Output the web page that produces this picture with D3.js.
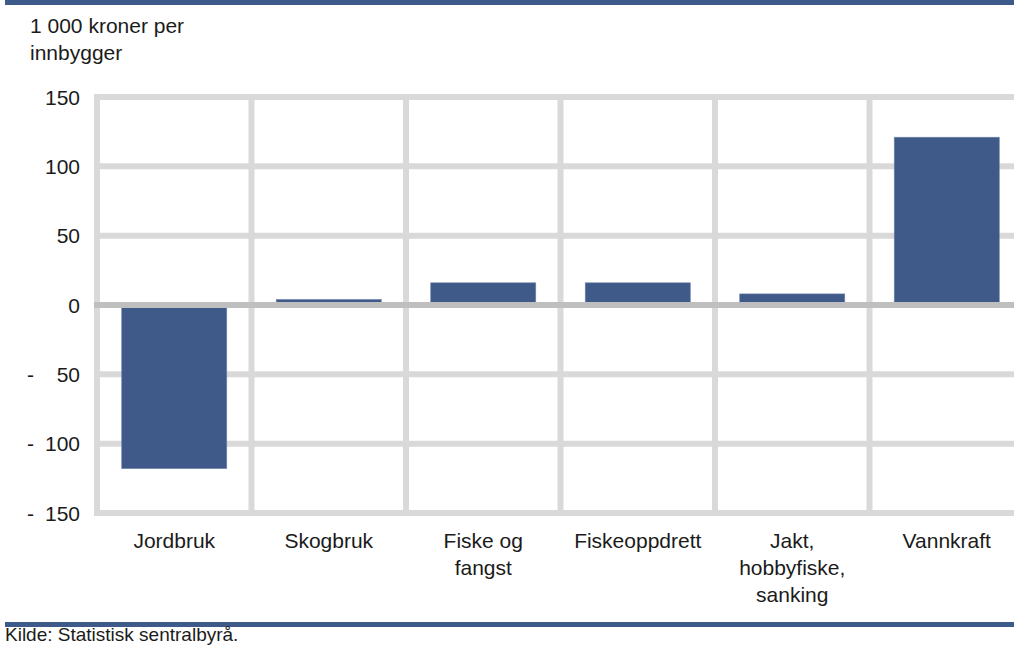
<!DOCTYPE html>
<html>
<head>
<meta charset="utf-8">
<script src="https://cdn.jsdelivr.net/npm/d3@7/dist/d3.min.js"></script>
<style>
  html, body { margin: 0; padding: 0; background: #fff; }
  svg { display: block; font-family: "Liberation Sans", Arial, sans-serif; }
</style>
</head>
<body>
<svg id="chart" width="1014" height="646"></svg>
<script>
const categories = [
  ["Jordbruk"],
  ["Skogbruk"],
  ["Fiske og", "fangst"],
  ["Fiskeoppdrett"],
  ["Jakt,", "hobbyfiske,", "sanking"],
  ["Vannkraft"]
];
const values = [-118, 4, 16, 16, 8, 121];
const yTicks = [150, 100, 50, 0, -50, -100, -150];
const unitLines = ["1 000 kroner per", "innbygger"];
const sourceText = "Kilde: Statistisk sentralbyrå.";

(function () {
const svg = d3.select("#chart");
const W = 1014;
const pLeft = 97, pRight = 1024, pTop = 97, pBottom = 513;
const textColor = "#1b1b1b";
const barColor = "#3f5a88";
const ruleColor = "#3d5a8a";

const keys = categories.map(c => c.join(" "));
const x = d3.scaleBand().domain(keys).range([pLeft, pRight])
  .paddingInner(0.32).paddingOuter(0.16);
const y = d3.scaleLinear().domain([-150, 150]).range([pBottom, pTop]);

// top and bottom rules
svg.append("rect").attr("x", 5).attr("y", 0).attr("width", W - 5).attr("height", 5).attr("fill", ruleColor);
svg.append("rect").attr("x", 5).attr("y", 622).attr("width", W - 5).attr("height", 5).attr("fill", ruleColor);

// horizontal gridlines
const grid = svg.append("g");
grid.selectAll("line.h").data(yTicks.filter(t => t !== 0)).join("line")
  .attr("class", "h")
  .attr("x1", pLeft - 3).attr("x2", pRight + 3)
  .attr("y1", d => y(d)).attr("y2", d => y(d))
  .attr("stroke", "#d9d9d9").attr("stroke-width", 6);

// vertical gridlines at category boundaries
const bounds = d3.range(keys.length + 1).map(i => x.range()[0] + i * x.step());
grid.selectAll("line.v").data(bounds).join("line")
  .attr("class", "v")
  .attr("x1", d => d).attr("x2", d => d)
  .attr("y1", pTop - 3).attr("y2", pBottom + 3)
  .attr("stroke", "#d9d9d9").attr("stroke-width", 6);

// bars
svg.append("g").selectAll("rect").data(values).join("rect")
  .attr("x", (d, i) => x(keys[i]))
  .attr("width", x.bandwidth())
  .attr("y", d => y(Math.max(0, d)))
  .attr("height", d => Math.abs(y(d) - y(0)))
  .attr("fill", barColor)
  .attr("stroke", "#6f86ad").attr("stroke-width", 0.6);

// zero line
svg.append("line")
  .attr("x1", pLeft - 3).attr("x2", pRight + 3)
  .attr("y1", y(0)).attr("y2", y(0))
  .attr("stroke", "#bfbfbf").attr("stroke-width", 6);

// y tick labels
const yl = svg.append("g").attr("font-size", 21).attr("fill", textColor);
yTicks.forEach(t => {
  yl.append("text").attr("x", 80).attr("y", y(t)).attr("dy", "0.36em")
    .attr("text-anchor", "end").text(Math.abs(t));
  if (t < 0) {
    yl.append("text").attr("x", 27).attr("y", y(t)).attr("dy", "0.36em").text("-");
  }
});

// unit label
svg.append("text").attr("font-size", 21).attr("fill", textColor)
  .selectAll("tspan").data(unitLines).join("tspan")
  .attr("x", 30).attr("y", (d, i) => 33 + i * 27).text(d => d);

// category labels
const cl = svg.append("g").attr("font-size", 21).attr("fill", textColor).attr("text-anchor", "middle");
categories.forEach((lines, i) => {
  const cx = x(keys[i]) + x.bandwidth() / 2;
  const t = cl.append("text");
  lines.forEach((ln, j) => {
    t.append("tspan").attr("x", cx).attr("y", 548 + j * 27).text(ln);
  });
});

// source
svg.append("text").attr("x", 5).attr("y", 641).attr("font-size", 19).attr("fill", textColor).text(sourceText);
})();
</script>
</body>
</html>
